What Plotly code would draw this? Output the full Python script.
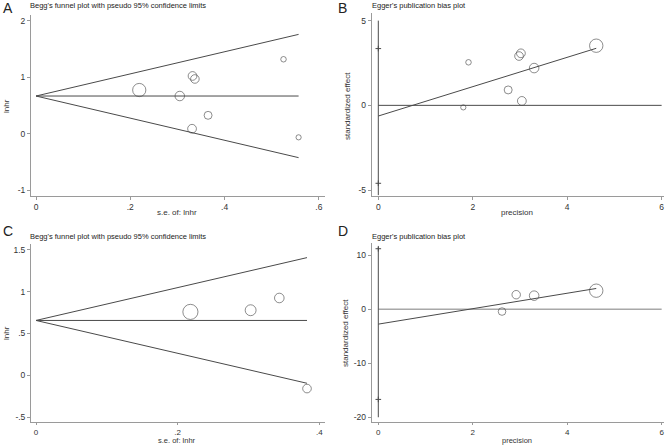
import plotly.graph_objects as go

# ---------------- data ----------------
# Panel A: Begg's funnel plot (se, lnhr)
a_se = [0.219, 0.305, 0.332, 0.337, 0.331, 0.365, 0.525, 0.557]
a_lnhr = [0.771, 0.665, 1.020, 0.967, 0.085, 0.323, 1.316, -0.067]
a_pooled = 0.665

# Panel B: Egger's plot (precision, standardized effect)
b_prec = [4.615, 3.30, 3.02, 2.98, 3.04, 2.75, 1.91, 1.80]
b_std = [3.52, 2.20, 3.07, 2.91, 0.26, 0.91, 2.54, -0.12]
b_intercept = -0.63
b_slope = 0.866
b_ci = [-4.60, 3.35]

# Panel C: Begg's funnel plot
c_se = [0.218, 0.303, 0.3435, 0.3826]
c_lnhr = [0.757, 0.777, 0.923, -0.158]
c_pooled = 0.655

# Panel D: Egger's plot
d_prec = [4.615, 3.30, 2.92, 2.62]
d_std = [3.43, 2.51, 2.69, -0.43]
d_intercept = -2.76
d_slope = 1.43
d_ci = [-16.7, 11.2]

# ---------------- styling ----------------
W, H = 669, 445
FONT = "Liberation Sans, Arial, sans-serif"
TXT = "#333333"
LINE = "#4a4a4a"
AXIS = "#9a9a9a"

def dom_x(l, r):
    return [l / W, r / W]

def dom_y(top, bottom):
    return [1 - bottom / H, 1 - top / H]

fig = go.Figure()

def circles(x, y, sizes, ax):
    fig.add_trace(go.Scatter(
        x=x, y=y, mode="markers", xaxis="x" + ax, yaxis="y" + ax,
        marker=dict(symbol="circle-open", size=sizes, color=LINE,
                    line=dict(width=0.9, color=LINE)),
        showlegend=False, hoverinfo="skip"))

def line(x, y, ax, color=LINE, width=1):
    fig.add_trace(go.Scatter(
        x=x, y=y, mode="lines", xaxis="x" + ax, yaxis="y" + ax,
        line=dict(color=color, width=width), showlegend=False,
        hoverinfo="skip"))

def ci_marks(y, ax):
    fig.add_trace(go.Scatter(
        x=[0, 0], y=y, mode="markers", xaxis="x" + ax, yaxis="y" + ax,
        marker=dict(symbol="cross-thin-open", size=4, color=LINE,
                    line=dict(width=1, color=LINE)),
        showlegend=False, hoverinfo="skip"))

# Panel A
sa = max(a_se)
line([0, sa], [a_pooled, a_pooled], "")
line([0, sa], [a_pooled, a_pooled + 1.96 * sa], "")
line([0, sa], [a_pooled, a_pooled - 1.96 * sa], "")
circles(a_se, a_lnhr, [2.9 / s for s in a_se], "")

# Panel B
pb = max(b_prec)
line([0, 6], [0, 0], "2")
line([0, 0], [-5.3, 5.0], "2")
line([0, pb], [b_intercept, b_intercept + b_slope * pb], "2")
ci_marks(b_ci, "2")
circles(b_prec, b_std, [2.9 * p for p in b_prec], "2")

# Panel C
sc = max(c_se)
line([0, sc], [c_pooled, c_pooled], "3")
line([0, sc], [c_pooled, c_pooled + 1.96 * sc], "3")
line([0, sc], [c_pooled, c_pooled - 1.96 * sc], "3")
circles(c_se, c_lnhr, [3.3 / s for s in c_se], "3")

# Panel D
pd_ = max(d_prec)
line([0, 6], [0, 0], "4", color="#a8a8a8", width=1.4)
line([0, 0], [-20.0, 11.5], "4")
line([0, pd_], [d_intercept, d_intercept + d_slope * pd_], "4")
ci_marks(d_ci, "4")
circles(d_prec, d_std, [2.9 * p for p in d_prec], "4")

def ax(domain, rng, tv, tt, anchor, ticklen=3, fs=8.5):
    return dict(domain=domain, range=rng, anchor=anchor, tickvals=tv, ticktext=tt,
                showline=True, linecolor=AXIS, linewidth=1, showgrid=False,
                zeroline=False, ticks="outside", ticklen=ticklen, tickcolor=AXIS,
                ticklabeloverflow="allow",
                tickfont=dict(size=fs, color=TXT, family=FONT))

fig.update_layout(
    width=W, height=H, margin=dict(l=0, r=0, t=0, b=0),
    paper_bgcolor="white", plot_bgcolor="white",
    xaxis=ax(dom_x(31, 325), [-0.0106, 0.613], [0, 0.2, 0.4, 0.6], ["0", ".2", ".4", ".6"], "y"),
    yaxis=ax(dom_y(15, 196), [-1.106, 2.10], [-1, 0, 1, 2], ["-1", "0", "1", "2"], "x"),
    xaxis2=ax(dom_x(371.7, 664), [-0.14, 6.05], [0, 2, 4, 6], ["0", "2", "4", "6"], "y2"),
    yaxis2=ax(dom_y(13, 196), [-5.35, 5.45], [-5, 0, 5], ["-5", "0", "5"], "x2"),
    xaxis3=ax(dom_x(31, 325), [-0.00706, 0.408], [0, 0.2, 0.4], ["0", ".2", ".4"], "y3", ticklen=2, fs=8),
    yaxis3=ax(dom_y(243.7, 422), [-0.557, 1.571], [-0.5, 0, 0.5, 1, 1.5], ["-.5", "0", ".5", "1", "1.5"], "x3"),
    xaxis4=ax(dom_x(371.7, 664), [-0.14, 6.05], [0, 2, 4, 6], ["0", "2", "4", "6"], "y4", ticklen=2, fs=8),
    yaxis4=ax(dom_y(243, 422), [-20.88, 12.26], [-20, -10, 0, 10], ["-20", "-10", "0", "10"], "x4"),
)

def text(t, x, y, size, anchor="left", angle=0, color="#222222"):
    fig.add_annotation(text=t, x=x / W, y=1 - y / H, xref="paper", yref="paper",
                       xanchor=anchor, yanchor="middle", showarrow=False,
                       textangle=angle, borderpad=0,
                       font=dict(size=size, color=color, family=FONT))

# panel letters
for t, x, y in [("A", 2, 8), ("B", 337, 8), ("C", 2, 231), ("D", 337, 231)]:
    text(t, x, y, 14)

# panel titles
text("Begg's funnel plot with pseudo 95% confidence limits", 29, 5, 7.5)
text("Egger's publication bias plot", 371, 5, 7.5)
text("Begg's funnel plot with pseudo 95% confidence limits", 29, 236, 7.5)
text("Egger's publication bias plot", 371, 236, 7.5)

# axis titles
text("s.e. of: lnhr", 177, 212, 8, anchor="center", color=TXT)
text("precision", 517, 212, 8, anchor="center", color=TXT)
text("s.e. of: lnhr", 177, 440.5, 7.5, anchor="center", color=TXT)
text("precision", 517, 440.5, 7.5, anchor="center", color=TXT)
text("lnhr", 6, 106, 8, anchor="center", angle=-90, color=TXT)
text("lnhr", 6, 333, 8, anchor="center", angle=-90, color=TXT)
text("standardized effect", 347, 106, 8, anchor="center", angle=-90, color=TXT)
text("standardized effect", 345, 333, 8, anchor="center", angle=-90, color=TXT)

fig.write_html("out.html", config={"displayModeBar": False},
               post_script="document.body.style.margin='0';")
